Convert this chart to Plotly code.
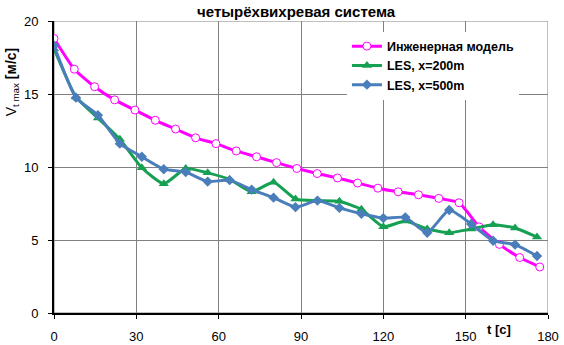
import plotly.graph_objects as go

# Engineering model (pink)
t_model = [0, 7.4, 14.8, 22.1, 29.5, 36.9, 44.3, 51.6, 59.0, 66.4, 73.8, 81.1, 88.5,
           95.9, 103.3, 110.6, 118.0, 125.4, 132.8, 140.2, 147.6, 154.9, 162.3, 169.7, 177.0]
v_model = [18.8, 16.7, 15.5, 14.6, 13.9, 13.2, 12.6, 12.0, 11.6, 11.1, 10.7, 10.3, 9.9,
           9.55, 9.25, 8.9, 8.55, 8.3, 8.1, 7.85, 7.55, 5.9, 4.7, 3.8, 3.15]

# LES series
t_les = [0, 8, 16, 24, 32, 40, 48, 56, 64, 72, 80, 88, 96, 104, 112, 120, 128, 136, 144, 152, 160, 168, 176]
v_les200 = [18.1, 14.8, 13.35, 11.9, 9.95, 8.85, 9.9, 9.6, 9.15, 8.3, 8.95, 7.8, 7.7,
            7.65, 7.1, 5.9, 6.3, 5.75, 5.5, 5.75, 6.05, 5.82, 5.2]
v_les500 = [18.3, 14.75, 13.55, 11.6, 10.7, 9.85, 9.65, 9.0, 9.1, 8.45, 7.9, 7.25, 7.7,
            7.2, 6.8, 6.5, 6.55, 5.5, 7.05, 6.1, 4.95, 4.68, 3.9]

x_ticks = [0, 30, 60, 90, 120, 150, 180]
y_ticks = [0, 5, 10, 15, 20]

names = ["Инженерная модель", "LES, x=200m", "LES, x=500m"]

font = "Liberation Sans, Arial, sans-serif"

fig = go.Figure()
fig.add_trace(go.Scatter(
    x=t_model, y=v_model, name=names[0], mode="lines+markers",
    line=dict(color="#FF00FF", width=3, shape="spline", smoothing=0.5),
    marker=dict(symbol="circle", size=8, color="white", line=dict(color="#FF00FF", width=1)),
))
fig.add_trace(go.Scatter(
    x=t_les, y=v_les200, name=names[1], mode="lines+markers",
    line=dict(color="#16A052", width=3, shape="spline", smoothing=0.5),
    marker=dict(symbol="triangle-up", size=9, color="#16A052"),
))
fig.add_trace(go.Scatter(
    x=t_les, y=v_les500, name=names[2], mode="lines+markers",
    line=dict(color="#4A7EBB", width=3, shape="spline", smoothing=0.5),
    marker=dict(symbol="diamond", size=8, color="#4A7EBB"),
))

fig.add_shape(type="rect", xref="x", yref="y", x0=0, x1=180, y0=0, y1=20,
              line=dict(color="#808080", width=1), layer="below")

fig.update_layout(
    width=564, height=345,
    margin=dict(l=54, r=16, t=21, b=32, autoexpand=False),
    paper_bgcolor="white", plot_bgcolor="white",
    font=dict(family=font, size=12, color="black"),
    title=dict(text="<b>четырёхвихревая система</b>", x=0.525, xanchor="center", xref="container",
               y=0.9667, yanchor="middle", yref="container",
               font=dict(size=15, family=font, color="black")),
    showlegend=True,
    legend=dict(x=0.593, y=0.964, xanchor="left", yanchor="top", bgcolor="white",
                borderwidth=0, font=dict(size=12.5, family=font, color="black", weight="bold"),
                itemwidth=30, tracegroupgap=0),
    xaxis=dict(range=[0, 180], tickvals=x_ticks, showgrid=True, gridcolor="#808080", gridwidth=1,
               showline=True, linecolor="black", linewidth=2, zeroline=False, automargin=False,
               ticks="outside", ticklen=4, tickcolor="black", tickwidth=1,
               ticklabelstandoff=6, ticklabeloverflow="allow", tickfont=dict(size=13, family=font)),
    yaxis=dict(range=[0, 20], tickvals=y_ticks, showgrid=True, gridcolor="#808080", gridwidth=1,
               showline=True, linecolor="black", linewidth=2, zeroline=False, automargin=False,
               ticks="outside", ticklen=4, tickcolor="black", tickwidth=1,
               ticklabelstandoff=7, ticklabeloverflow="allow", tickfont=dict(size=13, family=font)),
    annotations=[
        dict(text="<b>t [c]</b>", x=0.901, y=-0.058, xref="paper", yref="paper",
             xanchor="center", yanchor="middle", showarrow=False,
             font=dict(size=13, family=font)),
        dict(text="V<sub>t max</sub> <b>[м/с]</b>", x=-0.085, y=0.79, xref="paper", yref="paper",
             xanchor="center", yanchor="middle", textangle=-90, showarrow=False,
             font=dict(size=14, family=font)),
    ],
)

fig.write_html("out.html", config={"displayModeBar": False},
               post_script="document.body.style.margin='0';")
